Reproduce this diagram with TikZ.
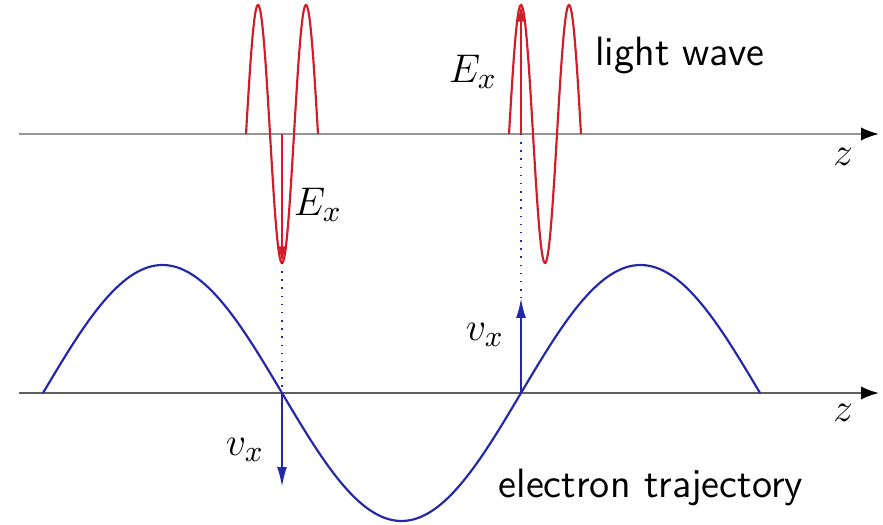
\documentclass[tikz,border=0pt]{standalone}
\usetikzlibrary{arrows.meta}
\definecolor{wavered}{RGB}{212,28,40}
\definecolor{trajblue}{RGB}{34,40,168}
\definecolor{axisgray}{RGB}{150,150,150}
\definecolor{axisdark}{RGB}{95,95,95}
\begin{document}
\begin{tikzpicture}[x=0.3pt,y=-0.3pt,
  every node/.style={font=\fontsize{12.3}{14}\selectfont, inner sep=0pt},
  axisline/.style={line width=0.65pt, -{Latex[length=5.4pt,width=4pt,color=black]}},
  redwave/.style={wavered, line width=0.65pt},
  redarrow/.style={wavered, line width=0.65pt, -{Latex[length=5pt,width=2.6pt]}},
  bluecurve/.style={trajblue, line width=0.65pt},
  bluearrow/.style={trajblue, line width=0.65pt, -{Latex[length=6pt,width=3pt]}},
  guide/.style={trajblue, line width=0.45pt, dotted}]
\useasboundingbox (0,0) rectangle (883,525);
% named coordinates
\coordinate (ua0) at (19,134);
\coordinate (ua1) at (879,134);
\coordinate (la0) at (19,393);
\coordinate (la1) at (879,393);
\coordinate (lA) at (282,134);
\coordinate (lT) at (282,263);
\coordinate (lB) at (282,393);
\coordinate (lV) at (282,487);
\coordinate (rA) at (521,134);
\coordinate (rT) at (521,5);
\coordinate (rB) at (521,393);
\coordinate (rV) at (521,298);
% axes
\draw[axisline, axisgray] (ua0) -- (ua1);
\draw[axisline, axisdark] (la0) -- (la1);
\node (z1) at (843,157) {$z$};
\node (z2) at (843,413) {$z$};
% light wave packets
\draw[redwave] plot[domain=246:318, samples=90, smooth] (\x, {134 + 129*cos(7.5*(\x-282))});
\draw[redwave] plot[domain=509:581, samples=90, smooth] (\x, {134 - 129*cos(7.5*(\x-521))});
\draw[redarrow] (lA) -- (lT);
\draw[redarrow] (rA) -- (rT);
% electron trajectory
\draw[bluecurve] plot[domain=43:760, samples=200, smooth] (\x, {393 - 128*sin(0.753138*(\x-43))});
% guides
\draw[guide] (lT) -- (lB);
\draw[guide] (rA) -- (rV);
% velocity arrows
\draw[bluearrow] (lB) -- (lV);
\draw[bluearrow] (rB) -- (rV);
% labels
\node (ex1) at (318,205) {$E_x$};
\node (ex2) at (473,72) {$E_x$};
\node (vx1) at (485,335) {$v_x$};
\node (vx2) at (245,450) {$v_x$};
\node (lw) at (680,55) {\sffamily light wave};
\node (et) at (651,487) {\sffamily electron trajectory};
\end{tikzpicture}
\end{document}
